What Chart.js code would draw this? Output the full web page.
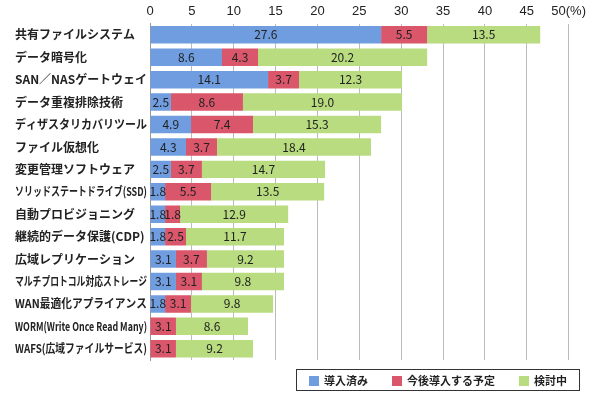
<!DOCTYPE html>
<html><head><meta charset="utf-8">
<script src="https://cdn.jsdelivr.net/npm/chart.js@4"></script>
<style>
body{margin:0;background:#fff;font-family:"Noto Sans CJK JP",sans-serif;}
#wrap{position:relative;width:590px;height:400px;}
#legend{position:absolute;left:296px;top:369px;width:284px;height:22px;border:1px solid #333;box-sizing:border-box;display:flex;align-items:center;justify-content:space-around;font-size:11px;font-weight:bold;color:#222;}
#legend span i{display:inline-block;width:10px;height:10px;margin-right:5px;vertical-align:-1px;}
</style></head><body>
<div id="wrap"><canvas id="c" width="590" height="400"></canvas>
<div id="legend"></div></div>
<script>
const categories=["共有ファイルシステム","データ暗号化","SAN／NASゲートウェイ","データ重複排除技術","ディザスタリカバリツール","ファイル仮想化","変更管理ソフトウェア","ソリッドステートドライブ(SSD)","自動プロビジョニング","継続的データ保護(CDP)","広域レプリケーション","マルチプロトコル対応ストレージ","WAN最適化アプライアンス","WORM(Write Once Read Many)","WAFS(広域ファイルサービス)"];
const introduced=[27.6,8.6,14.1,2.5,4.9,4.3,2.5,1.8,1.8,1.8,3.1,3.1,1.8,0,0];
const planned=[5.5,4.3,3.7,8.6,7.4,3.7,3.7,5.5,1.8,2.5,3.7,3.1,3.1,3.1,3.1];
const considering=[13.5,20.2,12.3,19.0,15.3,18.4,14.7,13.5,12.9,11.7,9.2,9.8,9.8,8.6,9.2];
const seriesNames=["導入済み","今後導入する予定","検討中"];
const colors=["#6f9de0","#d9566b","#b8dc7f"];
document.getElementById('legend').innerHTML=seriesNames.map((n,i)=>`<span><i style="background:${colors[i]}"></i>${n}</span>`).join('');
const labelPlugin={id:'lbl',afterDatasetsDraw(ch){const ctx=ch.ctx;ctx.save();ctx.font='12px "Noto Sans CJK JP", sans-serif';ctx.fillStyle='#222';ctx.textBaseline='middle';ctx.textAlign='center';
ch.data.datasets.forEach((ds,di)=>{ch.getDatasetMeta(di).data.forEach((b,i)=>{const v=ds.data[i];if(!v)return;ctx.fillText(v.toFixed(1),(b.x+b.base)/2,b.y);});});ctx.restore();}};
const yLabelPlugin={id:'ylbl',afterDraw(ch){const ctx=ch.ctx,y=ch.scales.y;ctx.save();ctx.fillStyle='#222';ctx.textBaseline='middle';ctx.textAlign='left';
categories.forEach((c,i)=>{const py=y.getPixelForValue(i);const maxW=132;ctx.font='bold 12px "Noto Sans CJK JP", sans-serif';let w=ctx.measureText(c).width;
ctx.save();ctx.translate(15,py);if(w>maxW)ctx.scale(maxW/w,1);ctx.fillText(c,0,0);ctx.restore();});ctx.restore();}};
new Chart(document.getElementById('c'),{type:'bar',
data:{labels:categories,datasets:[introduced,planned,considering].map((d,i)=>({label:seriesNames[i],data:d,backgroundColor:colors[i],barPercentage:0.78,categoryPercentage:1}))},
options:{indexAxis:'y',responsive:false,animation:false,layout:{padding:{left:0,right:18,top:0,bottom:40}},
plugins:{legend:{display:false},tooltip:{enabled:false}},
scales:{x:{position:'top',stacked:true,min:0,max:50,ticks:{stepSize:5,maxRotation:0,minRotation:0,color:'#222',font:{size:13},padding:4,callback:v=>v===50?'50(%)':v},grid:{color:'#bbb',drawTicks:false},border:{display:false}},
y:{stacked:true,afterFit:s=>{s.width=150;},ticks:{display:false},grid:{display:false},border:{color:'#999'}}}},
plugins:[labelPlugin,yLabelPlugin]});
</script></body></html>
